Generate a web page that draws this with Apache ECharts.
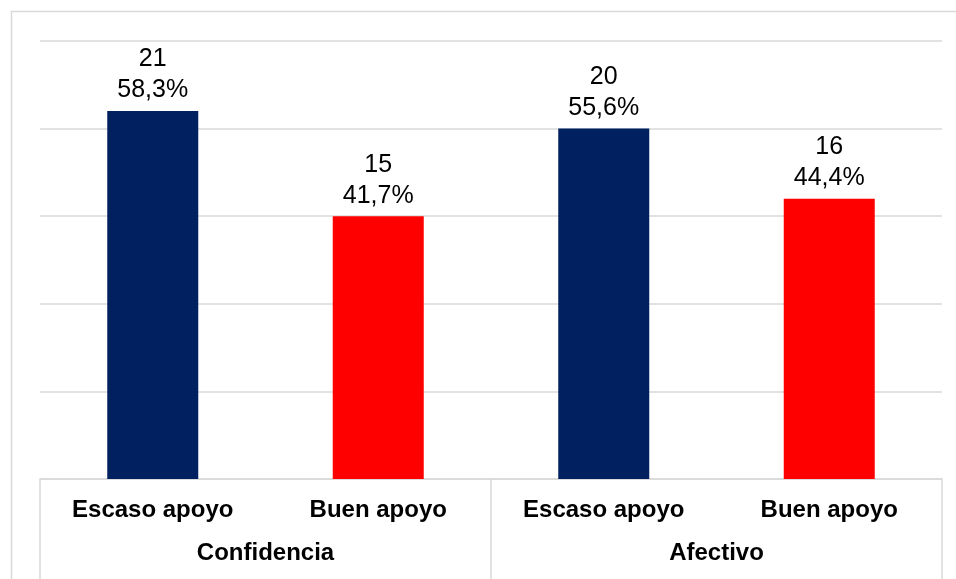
<!DOCTYPE html>
<html lang="es">
<head>
<meta charset="UTF-8">
<title>Apoyo</title>
<script src="https://cdn.jsdelivr.net/npm/echarts@6/dist/echarts.min.js"></script>
<style>
    html, body { margin: 0; padding: 0; background: #fff; }
    #chart { width: 956px; height: 579px; }
</style>
</head>
<body>
<div id="chart"></div>
<script>
    // datos
    var categories = ['Escaso apoyo', 'Buen apoyo', 'Escaso apoyo', 'Buen apoyo'];
    var groups = ['Confidencia', 'Afectivo'];
    var counts = [21, 15, 20, 16];
    var percents = ['58,3%', '41,7%', '55,6%', '44,4%'];
    var barColors = ['#002060', '#FF0000', '#002060', '#FF0000'];

    var chart = echarts.init(document.getElementById('chart'));
    var font = 'Liberation Sans, Arial, sans-serif';

    var option = {
        animation: false,
        graphic: [{
            type: 'rect',
            shape: { x: 11.5, y: 11.5, width: 1000, height: 1000 },
            style: { fill: 'none', stroke: '#d9d9d9', lineWidth: 1.5 },
            silent: true
        }],
        grid: { left: 40, right: 14, top: 41, bottom: 100 },
        xAxis: [
            {
                type: 'category',
                data: categories,
                axisLine: { show: false },
                axisTick: { show: false },
                axisLabel: {
                    fontFamily: font, fontSize: 24, fontWeight: 'bold',
                    color: '#000', margin: 19
                }
            },
            {
                // segundo nivel: grupos con separadores verticales
                type: 'category',
                data: groups,
                position: 'bottom',
                axisLine: { show: true, lineStyle: { color: '#d9d9d9', width: 1.5 } },
                axisTick: { show: true, length: 100, lineStyle: { color: '#d9d9d9', width: 1.5 } },
                axisLabel: {
                    fontFamily: font, fontSize: 24, fontWeight: 'bold',
                    color: '#000', margin: 62
                }
            }
        ],
        yAxis: {
            type: 'value',
            min: 0,
            max: 25,
            interval: 5,
            axisLabel: { show: false },
            axisLine: { show: false },
            axisTick: { show: false },
            splitLine: { lineStyle: { color: '#d9d9d9', width: 1.5 } }
        },
        series: [{
            type: 'bar',
            xAxisIndex: 0,
            barWidth: 91,
            data: counts.map(function (v, i) {
                return { value: v, itemStyle: { color: barColors[i] } };
            }),
            label: {
                show: true,
                position: 'top',
                distance: 5,
                fontFamily: font,
                fontSize: 25,
                lineHeight: 31,
                color: '#000',
                formatter: function (p) {
                    return counts[p.dataIndex] + '\n' + percents[p.dataIndex];
                }
            }
        }]
    };

    chart.setOption(option);
</script>
</body>
</html>
